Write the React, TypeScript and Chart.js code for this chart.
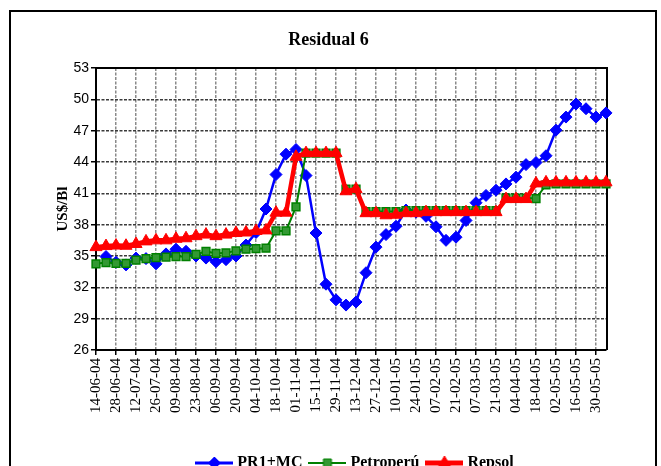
import React, { useEffect, useRef } from "react";
import { Chart, registerables } from "chart.js";

Chart.register(...registerables);

const DATES = [
  "14-06-04", "21-06-04", "28-06-04", "05-07-04", "12-07-04", "19-07-04", "26-07-04", "02-08-04",
  "09-08-04", "16-08-04", "23-08-04", "30-08-04", "06-09-04", "13-09-04", "20-09-04", "27-09-04",
  "04-10-04", "11-10-04", "18-10-04", "25-10-04", "01-11-04", "08-11-04", "15-11-04", "22-11-04",
  "29-11-04", "06-12-04", "13-12-04", "20-12-04", "27-12-04", "03-01-05", "10-01-05", "17-01-05",
  "24-01-05", "31-01-05", "07-02-05", "14-02-05", "21-02-05", "28-02-05", "07-03-05", "14-03-05",
  "21-03-05", "28-03-05", "04-04-05", "11-04-05", "18-04-05", "25-04-05", "02-05-05", "09-05-05",
  "16-05-05", "23-05-05", "30-05-05", "06-06-05",
];

const PR1_MC = [
  null, 34.95, 34.4, 34.15, 34.8, 34.75, 34.25, 35.2, 35.65, 35.45, 35.0, 34.8, 34.45,
  34.65, 35.0, 36.05, 37.25, 39.5, 42.8, 44.75, 45.2, 42.7, 37.2, 32.3, 30.8, 30.3,
  30.6, 33.4, 35.85, 37.05, 37.85, 39.4, 39.2, 38.8, 37.8, 36.5, 36.8, 38.4, 40.1,
  40.8, 41.3, 41.9, 42.55, 43.75, 43.95, 44.6, 47.05, 48.3, 49.55, 49.1, 48.3, 48.7,
];

const PETROPERU = [
  34.25, 34.37, 34.3, 34.3, 34.6, 34.75, 34.85, 34.9, 34.95, 34.95, 35.15, 35.45, 35.25,
  35.3, 35.5, 35.65, 35.7, 35.75, 37.4, 37.4, 39.7, 44.85, 44.85, 44.85, 44.85, 41.4,
  41.4, 39.25, 39.25, 39.25, 39.25, 39.35, 39.35, 39.35, 39.35, 39.35, 39.35, 39.35, 39.35,
  39.35, 39.35, 40.55, 40.55, 40.55, 40.5, 41.8, 41.9, 41.9, 41.9, 41.9, 41.9, 41.9,
];

const REPSOL = [
  35.85, 35.95, 36.0, 35.98, 36.15, 36.4, 36.5, 36.5, 36.65, 36.7, 36.9, 37.05, 36.9,
  37.05, 37.2, 37.25, 37.4, 37.45, 39.15, 39.15, 44.5, 44.85, 44.85, 44.85, 44.85, 41.2,
  41.4, 39.1, 39.1, 38.9, 38.95, 39.1, 39.1, 39.2, 39.2, 39.2, 39.2, 39.2, 39.2,
  39.2, 39.2, 40.45, 40.45, 40.45, 41.95, 42.05, 42.05, 42.05, 42.05, 42.05, 42.05, 42.05,
];

const SERIES_NAMES = ["PR1+MC", "Petroperú", "Repsol"];
const Y_MIN = 26;
const Y_MAX = 53;
const Y_STEP = 3;

const BLUE = "#0000ff";
const GREEN = "#008000";
const RED = "#ff0000";

function legendIcon(color: string, fill: string, shape: string, lw: number) {
  const c = document.createElement("canvas");
  c.width = 38;
  c.height = 16;
  const g = c.getContext("2d")!;
  g.strokeStyle = color;
  g.lineWidth = lw;
  g.beginPath();
  g.moveTo(0, 8);
  g.lineTo(38, 8);
  g.stroke();
  g.fillStyle = fill;
  g.beginPath();
  if (shape === "diamond") {
    g.moveTo(19, 2);
    g.lineTo(25, 8);
    g.lineTo(19, 14);
    g.lineTo(13, 8);
  } else if (shape === "square") {
    g.rect(15, 4, 8, 8);
  } else {
    g.moveTo(19, 1);
    g.lineTo(25.5, 12);
    g.lineTo(12.5, 12);
  }
  g.closePath();
  g.fill();
  g.strokeStyle = color;
  g.lineWidth = 1;
  g.stroke();
  return c;
}

const framePlugin = {
  id: "frame",
  beforeDatasetsDraw(chart: any) {
    const { ctx, chartArea } = chart;
    ctx.save();
    ctx.strokeStyle = "#000";
    ctx.lineWidth = 2;
    ctx.beginPath();
    ctx.moveTo(chartArea.left, chartArea.top);
    ctx.lineTo(chartArea.right + 1, chartArea.top);
    ctx.lineTo(chartArea.right + 1, chartArea.bottom);
    ctx.stroke();
    ctx.restore();
  },
};

const legendShift = {
  id: "legendShift",
  afterLayout(chart: any) {
    if (chart.legend) {
      chart.legend.left += 28;
      chart.legend.right += 28;
    }
  },
};

export default function App() {
  const ref = useRef<HTMLCanvasElement | null>(null);

  useEffect(() => {
    if (!ref.current) return;
    const icons = [
      legendIcon(BLUE, BLUE, "diamond", 3),
      legendIcon(GREEN, "#339933", "square", 2),
      legendIcon(RED, RED, "triangle", 5),
    ];
    const chart = new Chart(ref.current, {
      type: "line",
      data: {
        labels: DATES,
        datasets: [
          {
            label: SERIES_NAMES[0],
            data: PR1_MC,
            borderColor: BLUE,
            backgroundColor: BLUE,
            borderWidth: 2.5,
            pointStyle: "rectRot",
            pointRadius: 6,
            pointBorderWidth: 1,
            pointBorderColor: BLUE,
            pointBackgroundColor: BLUE,
            tension: 0,
            order: 3,
            clip: false,
          },
          {
            label: SERIES_NAMES[1],
            data: PETROPERU,
            borderColor: GREEN,
            backgroundColor: "#339933",
            borderWidth: 2,
            pointStyle: "rect",
            pointRadius: 5.5,
            pointBorderWidth: 1.5,
            pointBorderColor: GREEN,
            pointBackgroundColor: "#339933",
            tension: 0,
            order: 2,
            clip: false,
          },
          {
            label: SERIES_NAMES[2],
            data: REPSOL,
            borderColor: RED,
            backgroundColor: RED,
            borderWidth: 4.5,
            pointStyle: "triangle",
            pointRadius: 7,
            pointBorderWidth: 1,
            pointBorderColor: RED,
            pointBackgroundColor: RED,
            tension: 0,
            order: 1,
            clip: false,
          },
        ],
      },
      options: {
        responsive: false,
        animation: false,
        devicePixelRatio: 1,
        layout: { padding: { left: 40, right: 49, top: 0, bottom: 5 } },
        plugins: {
          title: {
            display: true,
            text: "Residual 6",
            color: "#000",
            font: { family: "Liberation Serif", size: 18, weight: "bold" },
            padding: { top: 17.2, bottom: 17.2 },
          },
          legend: {
            display: true,
            position: "bottom",
            labels: {
              usePointStyle: true,
              pointStyleWidth: 30,
              padding: 10,
              color: "#000",
              font: { family: "Liberation Serif", size: 16, weight: "bold" },
              generateLabels: () =>
                SERIES_NAMES.map((name, i) => ({
                  text: name,
                  pointStyle: icons[i],
                  fillStyle: "transparent",
                  strokeStyle: "transparent",
                  lineWidth: 0,
                  hidden: false,
                  datasetIndex: i,
                })),
            },
          },
          tooltip: { enabled: false },
        },
        scales: {
          x: {
            type: "category",
            offset: false,
            afterFit: (s: any) => {
              s.height = 95;
            },
            grid: {
              color: "#8a8a8a",
              lineWidth: 1.5,
              tickLength: 5,
              tickColor: "#000",
              tickWidth: 1.5,
              drawTicks: true,
            },
            border: { display: true, color: "#000", width: 2, dash: [3, 1.5] },
            ticks: {
              autoSkip: false,
              minRotation: 90,
              maxRotation: 90,
              padding: 3,
              color: "#000",
              font: { family: "Liberation Serif", size: 15 },
              callback: (_v: any, i: number) => (i % 2 === 0 ? DATES[i] : null),
            },
          },
          y: {
            min: Y_MIN,
            max: Y_MAX,
            afterFit: (s: any) => {
              s.width = 45;
            },
            grid: {
              color: "#3a3a3a",
              lineWidth: 1.5,
              tickLength: 5,
              tickColor: "#000",
              tickWidth: 1.5,
            },
            border: { display: true, color: "#000", width: 2, dash: [3, 1.5] },
            ticks: {
              stepSize: Y_STEP,
              padding: 2,
              color: "#000",
              font: { family: "Liberation Sans", size: 14 },
            },
            title: {
              display: true,
              text: "US$/Bl",
              color: "#000",
              font: { family: "Liberation Serif", size: 15, weight: "bold" },
              padding: { top: 3, bottom: 0 },
            },
          },
        },
      },
      plugins: [framePlugin, legendShift],
    });
    return () => chart.destroy();
  }, []);

  return (
    <div
      style={{
        position: "fixed",
        left: 0,
        top: 0,
        width: 661,
        height: 466,
        overflow: "hidden",
        background: "#fff",
      }}
    >
      <div
        style={{
          position: "absolute",
          left: 9,
          top: 10,
          width: 648,
          height: 478,
          boxSizing: "border-box",
          border: "2px solid #000",
        }}
      >
        <canvas ref={ref} width={644} height={474} style={{ display: "block", width: 644, height: 474 }} />
      </div>
    </div>
  );
}
